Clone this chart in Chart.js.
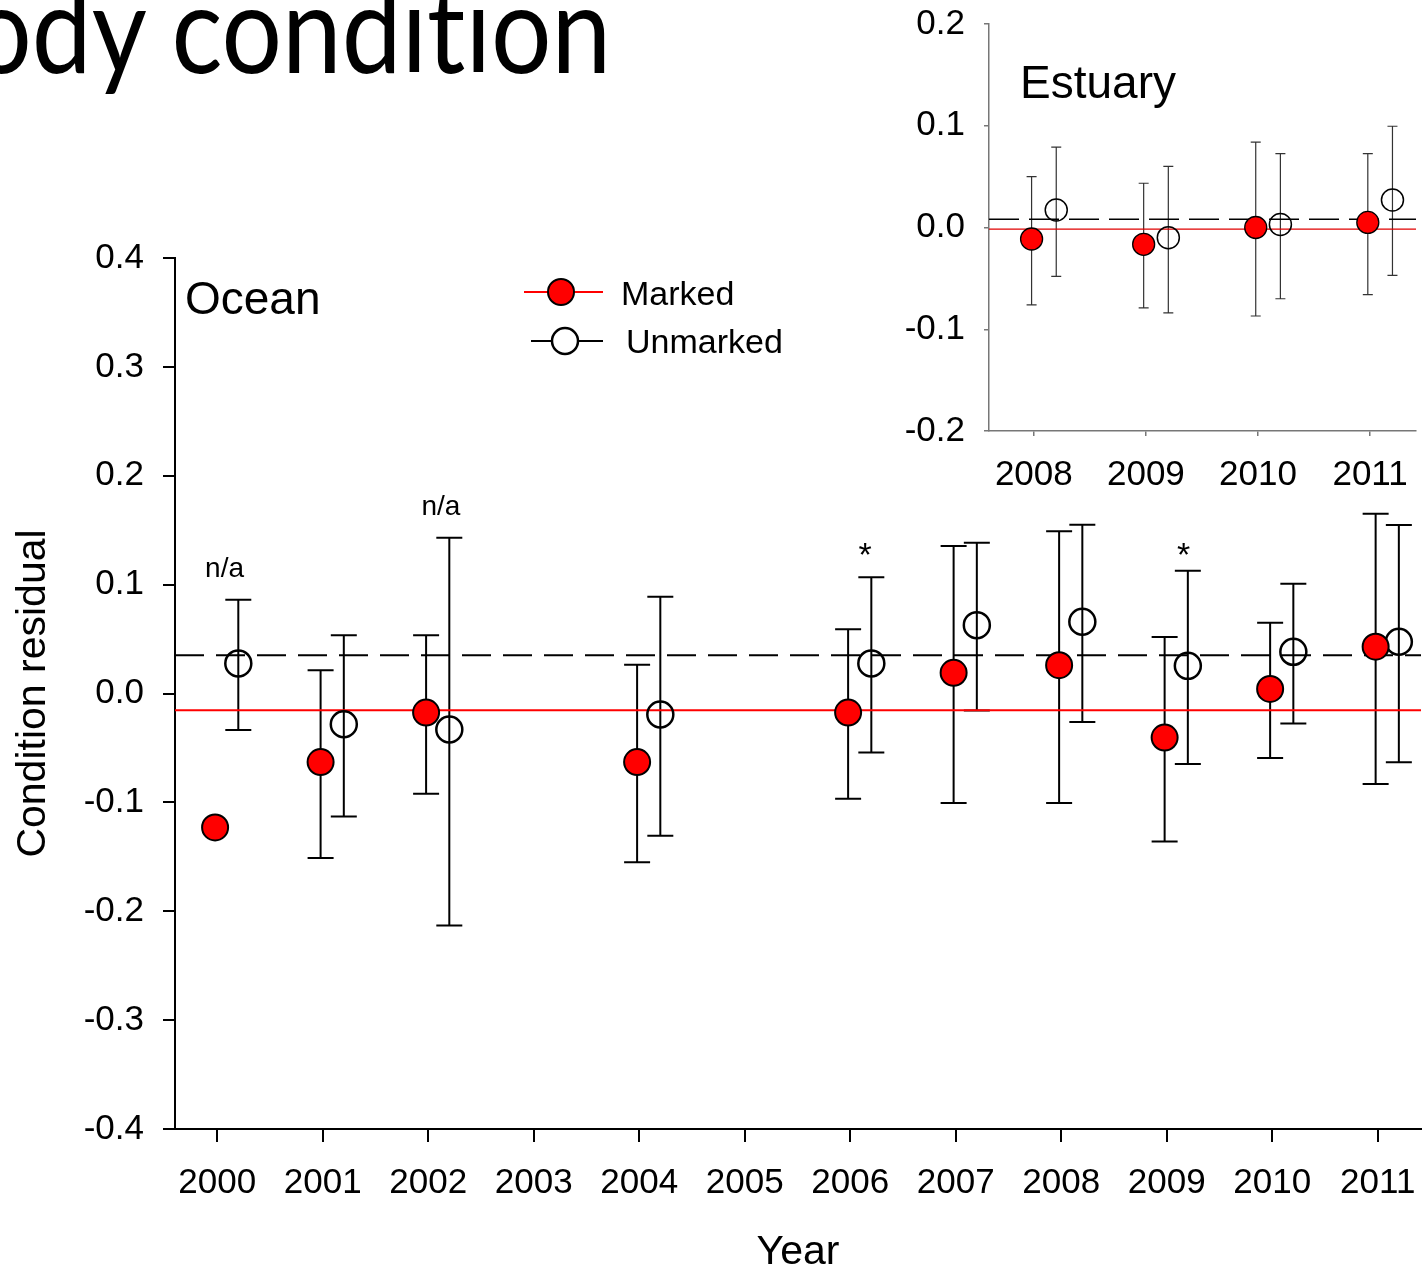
<!DOCTYPE html>
<html>
<head>
<meta charset="utf-8">
<title>Body condition</title>
<script src="https://cdn.jsdelivr.net/npm/chart.js@4.4.1/dist/chart.umd.min.js"></script>
<style>
  html, body { margin: 0; padding: 0; background: #fff; }
  body { width: 1426px; height: 1270px; position: relative; overflow: hidden; }
  #slideTitle {
    position: absolute; top: -35px; left: -110px;
    font-family: Lato, "Open Sans", sans-serif; font-size: 122px; line-height: 1;
    font-variant-ligatures: none; font-feature-settings: "liga" 0;
    white-space: nowrap; color: #000; transform-origin: 0 0;
  }
  #oceanWrap { position: absolute; left: 0; top: 0; width: 1426px; height: 1270px; }
  #estuaryWrap { position: absolute; left: 880px; top: 0; width: 546px; height: 500px; }
</style>
</head>
<body>
<div id="slideTitle"><span id="titleB">B</span><span id="titleRest">ody condition</span></div>
<div id="oceanWrap"><canvas id="oceanChart" width="1426" height="1270"></canvas></div>
<div id="estuaryWrap"><canvas id="estuaryChart" width="546" height="500"></canvas></div>

<script>
// ---- Ocean panel (main) ----
const oceanTickYears = [2000, 2001, 2002, 2003, 2004, 2005, 2006, 2007, 2008, 2009, 2010, 2011];
const oceanTickValues = [-0.4, -0.3, -0.2, -0.1, 0, 0.1, 0.2, 0.3, 0.4];
const oceanYears = [2000, 2001, 2002, 2004, 2006, 2007, 2008, 2009, 2010, 2011];
const oceanMarked = [-0.123, -0.063, -0.0175, -0.063, -0.0175, 0.019, 0.026, -0.0405, 0.0042, 0.043];
const oceanMarkedLow = [null, -0.151, -0.092, -0.155, -0.0966, -0.1006, -0.1006, -0.136, -0.0592, -0.0832];
const oceanMarkedHigh = [null, 0.0214, 0.0534, 0.0263, 0.0589, 0.1355, 0.149, 0.0518, 0.065, 0.165];
const oceanUnmarked = [0.0276, -0.0282, -0.0331, -0.0193, 0.0276, 0.0628, 0.0659, 0.0254, 0.0383, 0.0475];
const oceanUnmarkedLow = [-0.0335, -0.113, -0.213, -0.1306, -0.0543, -0.0156, -0.0261, -0.0648, -0.0276, -0.0632];
const oceanUnmarkedHigh = [0.0861, 0.0536, 0.143, 0.0889, 0.1067, 0.1385, 0.155, 0.1128, 0.1008, 0.1548];
const oceanMarkedMean = -0.0154;
const oceanUnmarkedMean = 0.0352;
const oceanNotes = ['n/a', 'n/a', '*', '*'];
const oceanNoteX = [2000.07, 2002.12, 2006.14, 2009.16];
const oceanNoteValues = [0.114, 0.171, 0.126, 0.126];

// ---- Estuary panel (inset) ----
const estuaryTickYears = [2008, 2009, 2010, 2011];
const estuaryTickValues = [-0.2, -0.1, 0, 0.1, 0.2];
const estuaryYears = [2008, 2009, 2010, 2011];
const estuaryMarked = [-0.0113, -0.0165, 0.0, 0.005];
const estuaryMarkedLow = [-0.076, -0.079, -0.087, -0.066];
const estuaryMarkedHigh = [0.050, 0.0435, 0.084, 0.0726];
const estuaryUnmarked = [0.0172, -0.010, 0.003, 0.027];
const estuaryUnmarkedLow = [-0.048, -0.084, -0.070, -0.047];
const estuaryUnmarkedHigh = [0.079, 0.060, 0.0726, 0.0995];
const estuaryMarkedMean = -0.0015;
const estuaryUnmarkedMean = 0.008;

// marker offsets around each year
const markedShift = -0.02;
const unmarkedShift = 0.2;

const FONT = '"Liberation Sans", Arial, Helvetica, sans-serif';
Chart.defaults.font.family = FONT;
Chart.defaults.color = '#000';
Chart.defaults.animation = false;

// slide title: only "ody condition" is visible, the "B" sits off the left edge
(function placeTitle() {
  const title = document.getElementById('slideTitle');
  const b = document.getElementById('titleB');
  const rest = document.getElementById('titleRest');
  const sx = 640 / rest.offsetWidth;
  title.style.transform = 'scaleX(' + sx + ')';
  title.style.left = (-29 - b.offsetWidth * sx) + 'px';
})();

function fmtTick(v) {
  return Math.abs(v) < 1e-9 ? '0.0' : v.toFixed(1);
}

// keep chart area edges where we put them (no label overhang padding)
function noPadX(height) {
  return s => { s.height = height; s.paddingLeft = 0; s.paddingRight = 0; };
}
function noPadY(width) {
  return s => { s.width = width; s.paddingTop = 0; s.paddingBottom = 0; };
}

/**
 * Vertical error bars with caps, drawn under the markers
 */
function makeErrorBars(sets, style) {
  return {
    id: 'errorBars',
    beforeDatasetsDraw(chart) {
      const { ctx, scales: { x, y } } = chart;
      ctx.save();
      ctx.strokeStyle = style.color;
      ctx.lineWidth = style.width;
      sets.forEach(s => {
        s.years.forEach((yr, i) => {
          if (s.low[i] == null) return;
          const px = x.getPixelForValue(yr + s.shift);
          const top = y.getPixelForValue(s.high[i]);
          const bot = y.getPixelForValue(s.low[i]);
          ctx.beginPath();
          ctx.moveTo(px, top); ctx.lineTo(px, bot);
          ctx.moveTo(px - style.cap, top); ctx.lineTo(px + style.cap, top);
          ctx.moveTo(px - style.cap, bot); ctx.lineTo(px + style.cap, bot);
          ctx.stroke();
        });
      });
      ctx.restore();
    }
  };
}

function pointSet(years, values, shift) {
  return years.map((yr, i) => ({ x: yr + shift, y: values[i] }));
}

function meanLine(value, xMin, xMax) {
  return [{ x: xMin, y: value }, { x: xMax, y: value }];
}

// ===== Ocean chart =====
const oceanXMin = 1999.60, oceanXMax = 2011.41;

const oceanDecor = {
  id: 'oceanDecor',
  afterDraw(chart) {
    const { ctx, chartArea: a, scales: { x, y } } = chart;
    ctx.save();
    ctx.fillStyle = '#000';
    ctx.textAlign = 'left';
    ctx.textBaseline = 'alphabetic';
    ctx.font = '46px ' + FONT;
    ctx.fillText('Ocean', a.left + 10, a.top + 56);

    // n/a and significance marks
    ctx.textAlign = 'center';
    ctx.textBaseline = 'middle';
    oceanNotes.forEach((t, i) => {
      ctx.font = (t === '*' ? '34px ' : '28px ') + FONT;
      ctx.fillText(t, x.getPixelForValue(oceanNoteX[i]), y.getPixelForValue(oceanNoteValues[i]));
    });

    // legend
    const lx = a.left + 349, ly = a.top + 34;
    ctx.lineWidth = 2;
    ctx.strokeStyle = '#ff0000';
    ctx.beginPath(); ctx.moveTo(lx, ly); ctx.lineTo(lx + 79, ly); ctx.stroke();
    ctx.beginPath(); ctx.arc(lx + 37, ly, 13, 0, Math.PI * 2);
    ctx.fillStyle = '#ff0000'; ctx.fill();
    ctx.strokeStyle = '#000'; ctx.stroke();

    ctx.strokeStyle = '#000';
    ctx.beginPath(); ctx.moveTo(lx + 7, ly + 49); ctx.lineTo(lx + 79, ly + 49); ctx.stroke();
    ctx.fillStyle = '#fff';
    ctx.lineWidth = 2.5;
    ctx.beginPath(); ctx.arc(lx + 41, ly + 49, 13, 0, Math.PI * 2); ctx.fill(); ctx.stroke();

    ctx.fillStyle = '#000';
    ctx.font = '34px ' + FONT;
    ctx.textAlign = 'left';
    ctx.textBaseline = 'alphabetic';
    ctx.fillText('Marked', lx + 97, ly + 13);
    ctx.fillText('Unmarked', lx + 102, ly + 61);
    ctx.restore();
  }
};

new Chart(document.getElementById('oceanChart'), {
  type: 'scatter',
  data: {
    datasets: [
      {
        label: 'Marked',
        data: pointSet(oceanYears, oceanMarked, markedShift),
        pointRadius: 13,
        pointBackgroundColor: '#ff0000',
        pointBorderColor: '#000',
        pointBorderWidth: 2,
        order: 0
      },
      {
        label: 'Unmarked',
        data: pointSet(oceanYears, oceanUnmarked, unmarkedShift),
        pointRadius: 13,
        pointBackgroundColor: 'rgba(0,0,0,0)',
        pointBorderColor: '#000',
        pointBorderWidth: 2.5,
        order: 1
      },
      {
        label: 'Unmarked mean',
        data: meanLine(oceanUnmarkedMean, oceanXMin, oceanXMax),
        showLine: true,
        borderColor: '#000',
        borderWidth: 2,
        borderDash: [29, 12],
        pointRadius: 0,
        order: 2
      },
      {
        label: 'Marked mean',
        data: meanLine(oceanMarkedMean, oceanXMin, oceanXMax),
        showLine: true,
        borderColor: '#ff0000',
        borderWidth: 2,
        pointRadius: 0,
        order: 3
      }
    ]
  },
  options: {
    responsive: false,
    events: [],
    layout: { autoPadding: false, padding: { top: 258, right: 5, bottom: 0, left: 0 } },
    plugins: { legend: { display: false }, tooltip: { enabled: false } },
    scales: {
      x: {
        type: 'linear',
        min: oceanXMin,
        max: oceanXMax,
        afterFit: noPadX(141),
        afterBuildTicks: s => { s.ticks = oceanTickYears.map(v => ({ value: v })); },
        ticks: { font: { size: 35 }, padding: 20, color: '#000', callback: v => String(v), maxRotation: 0, autoSkip: false },
        grid: { drawOnChartArea: false, tickLength: 13, color: '#000', lineWidth: 2 },
        border: { color: '#000', width: 2 },
        title: { display: true, text: 'Year', font: { size: 41, lineHeight: 0.85 }, padding: 0, color: '#000' }
      },
      y: {
        type: 'linear',
        min: -0.4,
        max: 0.4,
        afterFit: noPadY(175),
        afterBuildTicks: s => { s.ticks = oceanTickValues.map(v => ({ value: v })); },
        ticks: { font: { size: 35 }, padding: 19, color: '#000', callback: fmtTick },
        grid: { drawOnChartArea: false, tickLength: 12, color: '#000', lineWidth: 2 },
        border: { color: '#000', width: 2 },
        title: { display: true, text: 'Condition residual', font: { size: 41 }, padding: { top: 9, bottom: 0 }, color: '#000' }
      }
    }
  },
  plugins: [
    makeErrorBars([
      { years: oceanYears, low: oceanMarkedLow, high: oceanMarkedHigh, shift: markedShift },
      { years: oceanYears, low: oceanUnmarkedLow, high: oceanUnmarkedHigh, shift: unmarkedShift }
    ], { color: '#000', width: 2, cap: 13 }),
    oceanDecor
  ]
});

// ===== Estuary chart (inset) =====
const estuaryXMin = 2007.60, estuaryXMax = 2011.41;

const estuaryDecor = {
  id: 'estuaryDecor',
  afterDraw(chart) {
    const { ctx, chartArea: a } = chart;
    ctx.save();
    ctx.fillStyle = '#000';
    ctx.font = '46px ' + FONT;
    ctx.textAlign = 'left';
    ctx.textBaseline = 'alphabetic';
    ctx.fillText('Estuary', a.left + 31, a.top + 74);
    ctx.restore();
  }
};

new Chart(document.getElementById('estuaryChart'), {
  type: 'scatter',
  data: {
    datasets: [
      {
        label: 'Marked',
        data: pointSet(estuaryYears, estuaryMarked, markedShift),
        pointRadius: 11,
        pointBackgroundColor: '#ff0000',
        pointBorderColor: '#000',
        pointBorderWidth: 1.3,
        order: 0
      },
      {
        label: 'Unmarked',
        data: pointSet(estuaryYears, estuaryUnmarked, unmarkedShift),
        pointRadius: 11,
        pointBackgroundColor: 'rgba(0,0,0,0)',
        pointBorderColor: '#000',
        pointBorderWidth: 1.5,
        order: 1
      },
      {
        label: 'Unmarked mean',
        data: meanLine(estuaryUnmarkedMean, estuaryXMin, estuaryXMax),
        showLine: true,
        borderColor: '#000',
        borderWidth: 1.5,
        borderDash: [30, 10],
        pointRadius: 0,
        order: 2
      },
      {
        label: 'Marked mean',
        data: meanLine(estuaryMarkedMean, estuaryXMin, estuaryXMax),
        showLine: true,
        borderColor: '#e00000',
        borderWidth: 1.3,
        pointRadius: 0,
        order: 3
      }
    ]
  },
  options: {
    responsive: false,
    events: [],
    layout: { autoPadding: false, padding: { top: 24, right: 10, bottom: 0, left: 0 } },
    plugins: { legend: { display: false }, tooltip: { enabled: false } },
    scales: {
      x: {
        type: 'linear',
        min: estuaryXMin,
        max: estuaryXMax,
        afterFit: noPadX(69),
        afterBuildTicks: s => { s.ticks = estuaryTickYears.map(v => ({ value: v })); },
        ticks: { font: { size: 35 }, padding: 18, color: '#000', callback: v => String(v), maxRotation: 0, autoSkip: false },
        grid: { drawOnChartArea: false, tickLength: 5, color: '#777', lineWidth: 1.5 },
        border: { color: '#777', width: 1.5 }
      },
      y: {
        type: 'linear',
        min: -0.2,
        max: 0.2,
        afterFit: noPadY(109),
        afterBuildTicks: s => { s.ticks = estuaryTickValues.map(v => ({ value: v })); },
        ticks: { font: { size: 35 }, padding: 19, color: '#000', callback: fmtTick },
        grid: { drawOnChartArea: false, tickLength: 5, color: '#777', lineWidth: 1.5 },
        border: { color: '#777', width: 1.5 }
      }
    }
  },
  plugins: [
    makeErrorBars([
      { years: estuaryYears, low: estuaryMarkedLow, high: estuaryMarkedHigh, shift: markedShift },
      { years: estuaryYears, low: estuaryUnmarkedLow, high: estuaryUnmarkedHigh, shift: unmarkedShift }
    ], { color: '#333', width: 1.2, cap: 5 }),
    estuaryDecor
  ]
});
</script>
</body>
</html>
